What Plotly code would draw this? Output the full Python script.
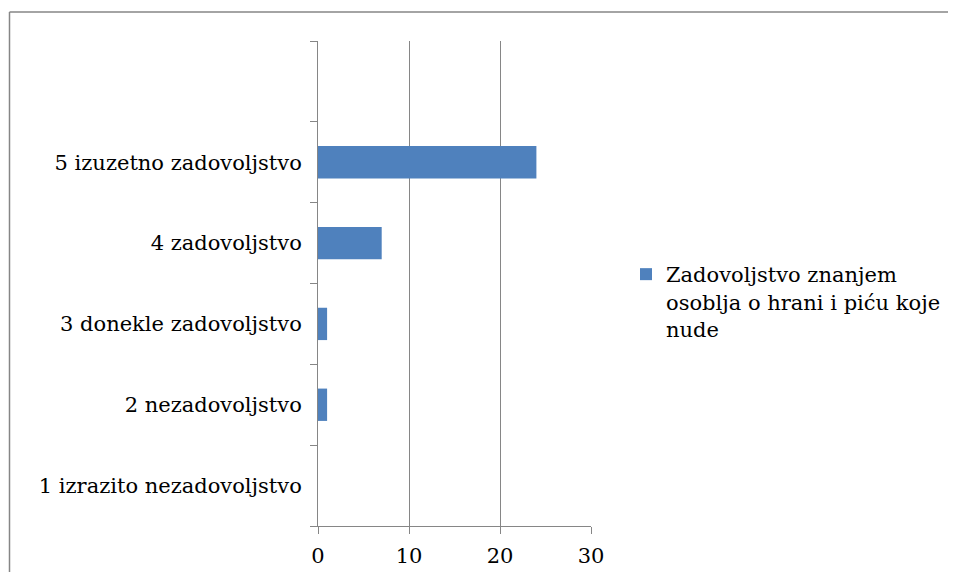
import plotly.graph_objects as go

categories = ["1 izrazito nezadovoljstvo", "2 nezadovoljstvo", "3 donekle zadovoljstvo",
              "4 zadovoljstvo", "5 izuzetno zadovoljstvo", " "]
values = [0, 1, 1, 7, 24, None]
series_name = "Zadovoljstvo znanjem<br>osoblja o hrani i piću koje<br>nude"
x_ticks = [0, 10, 20, 30]

FONT = "DejaVu Serif"
FS = 21
GRAY = "#868686"
BLUE = "#4F81BD"

fig = go.Figure()
fig.add_trace(go.Bar(
    y=categories, x=values, orientation="h", name=series_name,
    marker=dict(color=BLUE, line=dict(width=0)),
    showlegend=True,
))

# figure is shown with an 8px page margin; work in figure pixels
W, H = 940, 564
L, R, T, B = 310, 940 - 583, 33, 564 - 518
pw, ph = W - L - R, H - T - B

def px(x):
    return (x - L) / pw

def py(y):
    return (H - B - y) / ph

fig.update_layout(
    width=W, height=H,
    margin=dict(l=L, r=R, t=T, b=B, autoexpand=False),
    paper_bgcolor="white", plot_bgcolor="white",
    font=dict(family=FONT, size=FS, color="black"),
    bargap=0.6,
    showlegend=True,
    legend=dict(
        xref="container", yref="container",
        x=618 / W, y=1 - 246 / H, xanchor="left", yanchor="top",
        valign="top",
        font=dict(family=FONT, size=FS, color="black"),
        bgcolor="rgba(0,0,0,0)", borderwidth=0,
        itemwidth=30, tracegroupgap=0,
    ),
    xaxis=dict(
        range=[0, 30], tickvals=x_ticks, ticktext=[str(v) for v in x_ticks],
        showgrid=True, gridcolor=GRAY, gridwidth=1,
        showline=True, linecolor=GRAY, linewidth=1,
        ticks="outside", ticklen=7, tickcolor=GRAY,
        zeroline=False, ticklabelstandoff=4, automargin=False,
        tickfont=dict(family=FONT, size=FS, color="black"),
    ),
    yaxis=dict(
        type="category", categoryorder="array", categoryarray=categories,
        range=[-0.5, 5.5], tickson="boundaries",
        showgrid=False, showline=True, linecolor=GRAY, linewidth=1,
        ticks="outside", ticklen=7, tickcolor=GRAY,
        ticklabelstandoff=11, automargin=False,
        tickfont=dict(family=FONT, size=FS, color="black"),
    ),
    shapes=[
        dict(type="line", xref="paper", yref="paper",
             x0=px(1.5), x1=px(W + 20), y0=py(4), y1=py(4),
             line=dict(color=GRAY, width=1.5), layer="above"),
        dict(type="line", xref="paper", yref="paper",
             x0=px(1.5), x1=px(1.5), y0=py(4), y1=py(H + 20),
             line=dict(color=GRAY, width=1.5), layer="above"),
    ],
)

fig.write_html("out.html")
